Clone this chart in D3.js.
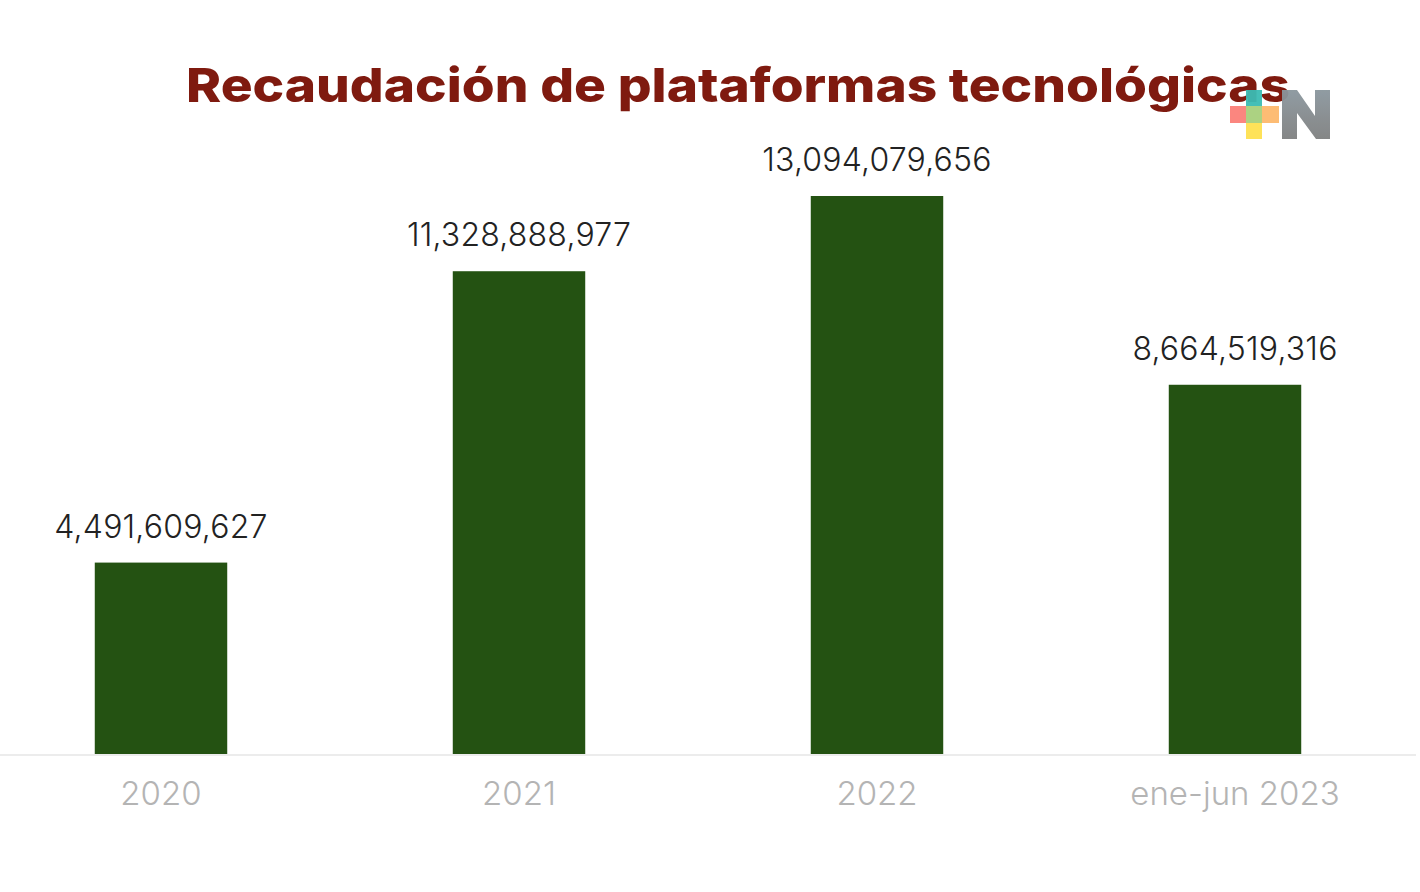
<!DOCTYPE html>
<html>
<head>
<meta charset="utf-8">
<script src="https://cdnjs.cloudflare.com/ajax/libs/d3/7.8.5/d3.min.js"></script>
<style>
  html, body { margin: 0; padding: 0; background: #fff; }
  svg { display: block; }
  text { font-family: Inter, "Open Sans", sans-serif; }
</style>
</head>
<body>
<svg id="chart"></svg>
<script>
const categories = ["2020", "2021", "2022", "ene-jun 2023"];
const values = [4491609627, 11328888977, 13094079656, 8664519316];
const title = "Recaudación de plataformas tecnológicas";

const WIDTH = 1420, HEIGHT = 892;
const BASE_Y = 754, TOP_Y = 196;

const svg = d3.select("#chart").attr("width", WIDTH).attr("height", HEIGHT);

let xScale = d3.scaleBand()
  .domain(categories)
  .range([-18, 1414])
  .paddingInner(0.63)
  .paddingOuter(0.315);

let yScale = d3.scaleLinear()
  .domain([0, d3.max(values)])
  .range([BASE_Y, TOP_Y]);

// title, stretched since the original face is wider than anything installed
svg.append("text")
  .attr("x", 738).attr("y", 102)
  .attr("text-anchor", "middle")
  .attr("font-size", 47).attr("font-weight", 800)
  .attr("textLength", 1104).attr("lengthAdjust", "spacingAndGlyphs")
  .attr("fill", "#7f1a0f")
  .text(title);

// bars
svg.selectAll("rect.bar")
  .data(values)
  .enter().append("rect")
  .attr("class", "bar")
  .attr("x", (d, i) => xScale(categories[i]))
  .attr("y", d => yScale(d))
  .attr("width", xScale.bandwidth())
  .attr("height", d => BASE_Y - yScale(d))
  .attr("fill", "#245212");

// value labels
svg.selectAll("text.value")
  .data(values)
  .enter().append("text")
  .attr("class", "value")
  .attr("x", (d, i) => xScale(categories[i]) + xScale.bandwidth() / 2)
  .attr("y", d => yScale(d) - 25)
  .attr("text-anchor", "middle")
  .attr("font-size", 32).attr("font-weight", 300)
  .attr("letter-spacing", 0.2)
  .attr("fill", "#222")
  .text(d => d3.format(",")(d));

// axis
const axis = svg.append("g")
  .attr("transform", `translate(0,${BASE_Y})`)
  .call(d3.axisBottom(xScale).tickSize(0).tickPadding(28));
axis.select(".domain").attr("stroke", "#ececec").attr("stroke-width", 2)
  .attr("d", "M0,1H1416");
axis.selectAll("text")
  .attr("font-size", 33).attr("font-weight", 300)
  .attr("fill", "#b4b4b4")
  .style("font-family", 'Inter, "Open Sans", sans-serif');

// logo mark, sits over the end of the title
const defs = svg.append("defs");
const grad = defs.append("linearGradient").attr("id", "logoN").attr("x1", 0).attr("y1", 0).attr("x2", 0).attr("y2", 1);
grad.append("stop").attr("offset", 0).attr("stop-color", "#8b979e");
grad.append("stop").attr("offset", 1).attr("stop-color", "#7f8080");

const logo = svg.append("g").attr("opacity", 0.95);
[[1230, 106, 16, 17, "#fb8079"], [1246, 90, 16, 17, "#3cbcb4"], [1246, 106, 16, 17, "#a8d07c"],
 [1262, 106, 17, 17, "#fdb96d"], [1246, 123, 16, 16, "#fee151"]].forEach(r => {
  logo.append("rect").attr("x", r[0]).attr("y", r[1]).attr("width", r[2]).attr("height", r[3]).attr("fill", r[4]);
});
logo.append("path")
  .attr("d", "M1282,90H1297L1315,116V90H1330V139H1316L1297,113V139H1282Z")
  .attr("fill", "url(#logoN)");
</script>
</body>
</html>
